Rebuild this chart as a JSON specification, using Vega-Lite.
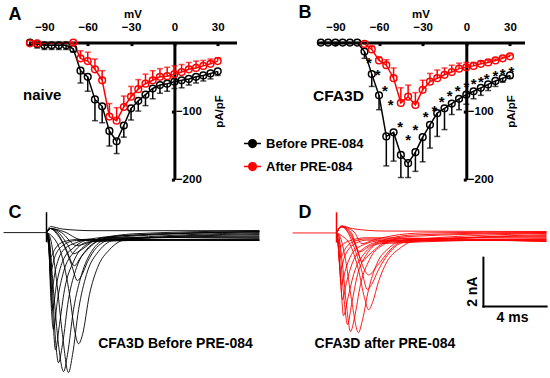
{
"$schema":"https://vega.github.io/schema/vega-lite/v6.json",
"padding":{"left":1.5,"top":3.6,"right":0,"bottom":0},
"bounds":"flush",
"columns":2,
"spacing":{"row":20,"column":80},
"config":{
"view":{"stroke":null},
"font":"Liberation Sans",
"axis":{"labelFont":"Liberation Sans","labelFontWeight":"bold","labelFontSize":11.5,"labelColor":"black","titleFont":"Liberation Sans","titleFontWeight":"bold","titleFontSize":11.5,"titleColor":"black","domainColor":"black","domainWidth":3,"tickColor":"black","tickWidth":3,"grid":false,"labelFlush":false,"labelOverlap":false}
},
"datasets":{
"iv":[
{"p":"A","c":"Before PRE-084","v":-100,"i":0,"e":-3},{"p":"A","c":"Before PRE-084","v":-95,"i":-2,"e":-8},{"p":"A","c":"Before PRE-084","v":-90,"i":-4,"e":-10},{"p":"A","c":"Before PRE-084","v":-85,"i":-4,"e":-10},{"p":"A","c":"Before PRE-084","v":-80,"i":-4,"e":-10},{"p":"A","c":"Before PRE-084","v":-75,"i":-4,"e":-10},{"p":"A","c":"Before PRE-084","v":-70,"i":-9,"e":-14},{"p":"A","c":"Before PRE-084","v":-65,"i":-41,"e":-59},{"p":"A","c":"Before PRE-084","v":-60,"i":-50,"e":-71},{"p":"A","c":"Before PRE-084","v":-55,"i":-83,"e":-114},{"p":"A","c":"Before PRE-084","v":-50,"i":-93,"e":-117},{"p":"A","c":"Before PRE-084","v":-45,"i":-129,"e":-151},{"p":"A","c":"Before PRE-084","v":-40,"i":-144,"e":-162},{"p":"A","c":"Before PRE-084","v":-35,"i":-121,"e":-138},{"p":"A","c":"Before PRE-084","v":-30,"i":-96,"e":-113},{"p":"A","c":"Before PRE-084","v":-25,"i":-85,"e":-100},{"p":"A","c":"Before PRE-084","v":-20,"i":-76,"e":-92},{"p":"A","c":"Before PRE-084","v":-15,"i":-67,"e":-82},{"p":"A","c":"Before PRE-084","v":-10,"i":-62,"e":-74},{"p":"A","c":"Before PRE-084","v":-5,"i":-60,"e":-71},{"p":"A","c":"Before PRE-084","v":0,"i":-57,"e":-67},{"p":"A","c":"Before PRE-084","v":5,"i":-55,"e":-66},{"p":"A","c":"Before PRE-084","v":10,"i":-53,"e":-62},{"p":"A","c":"Before PRE-084","v":15,"i":-50,"e":-59},{"p":"A","c":"Before PRE-084","v":20,"i":-48,"e":-56},{"p":"A","c":"Before PRE-084","v":25,"i":-45,"e":-53},{"p":"A","c":"Before PRE-084","v":30,"i":-42,"e":-48},
{"p":"A","c":"After PRE-084","v":-100,"i":-1,"e":null},{"p":"A","c":"After PRE-084","v":-95,"i":-1,"e":null},{"p":"A","c":"After PRE-084","v":-70,"i":0,"e":null},{"p":"A","c":"After PRE-084","v":-65,"i":-23,"e":-12},{"p":"A","c":"After PRE-084","v":-60,"i":-27,"e":-14},{"p":"A","c":"After PRE-084","v":-55,"i":-39,"e":-24},{"p":"A","c":"After PRE-084","v":-50,"i":-55,"e":-41},{"p":"A","c":"After PRE-084","v":-45,"i":-108,"e":-89},{"p":"A","c":"After PRE-084","v":-40,"i":-114,"e":-95},{"p":"A","c":"After PRE-084","v":-35,"i":-94,"e":-78},{"p":"A","c":"After PRE-084","v":-30,"i":-79,"e":-64},{"p":"A","c":"After PRE-084","v":-25,"i":-68,"e":-54},{"p":"A","c":"After PRE-084","v":-20,"i":-60,"e":-46},{"p":"A","c":"After PRE-084","v":-15,"i":-55,"e":-41},{"p":"A","c":"After PRE-084","v":-10,"i":-50,"e":-38},{"p":"A","c":"After PRE-084","v":-5,"i":-49,"e":-36},{"p":"A","c":"After PRE-084","v":0,"i":-46,"e":-34},{"p":"A","c":"After PRE-084","v":5,"i":-43,"e":-32},{"p":"A","c":"After PRE-084","v":10,"i":-39,"e":-29},{"p":"A","c":"After PRE-084","v":15,"i":-37,"e":-27},{"p":"A","c":"After PRE-084","v":20,"i":-34,"e":-26},{"p":"A","c":"After PRE-084","v":25,"i":-31,"e":-24},{"p":"A","c":"After PRE-084","v":30,"i":-27,"e":-22},
{"p":"B","c":"Before PRE-084","v":-100,"i":0,"e":null},{"p":"B","c":"Before PRE-084","v":-95,"i":0,"e":null},{"p":"B","c":"Before PRE-084","v":-90,"i":0,"e":null},{"p":"B","c":"Before PRE-084","v":-85,"i":0,"e":null},{"p":"B","c":"Before PRE-084","v":-80,"i":0,"e":null},{"p":"B","c":"Before PRE-084","v":-75,"i":0,"e":null},{"p":"B","c":"Before PRE-084","v":-70,"i":-13,"e":-23},{"p":"B","c":"Before PRE-084","v":-65,"i":-46,"e":-64},{"p":"B","c":"Before PRE-084","v":-60,"i":-77,"e":-98},{"p":"B","c":"Before PRE-084","v":-55,"i":-137,"e":-180},{"p":"B","c":"Before PRE-084","v":-50,"i":-131,"e":-173},{"p":"B","c":"Before PRE-084","v":-45,"i":-164,"e":-197},{"p":"B","c":"Before PRE-084","v":-40,"i":-176,"e":-197},{"p":"B","c":"Before PRE-084","v":-35,"i":-160,"e":-188},{"p":"B","c":"Before PRE-084","v":-30,"i":-138,"e":-174},{"p":"B","c":"Before PRE-084","v":-25,"i":-120,"e":-154},{"p":"B","c":"Before PRE-084","v":-20,"i":-103,"e":-137},{"p":"B","c":"Before PRE-084","v":-15,"i":-96,"e":-127},{"p":"B","c":"Before PRE-084","v":-10,"i":-89,"e":-105},{"p":"B","c":"Before PRE-084","v":-5,"i":-82,"e":-98},{"p":"B","c":"Before PRE-084","v":0,"i":-76,"e":-90},{"p":"B","c":"Before PRE-084","v":5,"i":-71,"e":-82},{"p":"B","c":"Before PRE-084","v":10,"i":-66,"e":-77},{"p":"B","c":"Before PRE-084","v":15,"i":-61,"e":-70},{"p":"B","c":"Before PRE-084","v":20,"i":-56,"e":-64},{"p":"B","c":"Before PRE-084","v":25,"i":-52,"e":-58},{"p":"B","c":"Before PRE-084","v":30,"i":-48,"e":-52},
{"p":"B","c":"After PRE-084","v":-70,"i":-2,"e":null},{"p":"B","c":"After PRE-084","v":-65,"i":-10,"e":-5},{"p":"B","c":"After PRE-084","v":-60,"i":-26,"e":-21},{"p":"B","c":"After PRE-084","v":-55,"i":-33,"e":-25},{"p":"B","c":"After PRE-084","v":-50,"i":-52,"e":-37},{"p":"B","c":"After PRE-084","v":-45,"i":-88,"e":-66},{"p":"B","c":"After PRE-084","v":-40,"i":-79,"e":-62},{"p":"B","c":"After PRE-084","v":-35,"i":-91,"e":-73},{"p":"B","c":"After PRE-084","v":-30,"i":-69,"e":-55},{"p":"B","c":"After PRE-084","v":-25,"i":-57,"e":-45},{"p":"B","c":"After PRE-084","v":-20,"i":-52,"e":-40},{"p":"B","c":"After PRE-084","v":-15,"i":-47,"e":-37},{"p":"B","c":"After PRE-084","v":-10,"i":-43,"e":-33},{"p":"B","c":"After PRE-084","v":-5,"i":-38,"e":-30},{"p":"B","c":"After PRE-084","v":0,"i":-36,"e":-29},{"p":"B","c":"After PRE-084","v":5,"i":-34,"e":-29},{"p":"B","c":"After PRE-084","v":10,"i":-31,"e":-27},{"p":"B","c":"After PRE-084","v":15,"i":-29,"e":-26},{"p":"B","c":"After PRE-084","v":20,"i":-26,"e":-24},{"p":"B","c":"After PRE-084","v":25,"i":-23,"e":-21},{"p":"B","c":"After PRE-084","v":30,"i":-20,"e":-18}
],
"stars":[
{"v":-67,"i":-24},{"v":-61,"i":-42},{"v":-56,"i":-65},{"v":-52,"i":-86},{"v":-45.5,"i":-118},{"v":-40,"i":-137},{"v":-35,"i":-123},{"v":-28,"i":-103},{"v":-22,"i":-94},{"v":-17,"i":-82},{"v":-11.5,"i":-73},{"v":-6,"i":-66},{"v":0,"i":-59},{"v":5,"i":-55},{"v":10,"i":-52},{"v":14,"i":-48},{"v":20,"i":-44},{"v":25,"i":-40},{"v":31,"i":-37}
],
"tr":[
{"p":"C","k":0,"t":-2.72,"i":0},{"p":"C","k":0,"t":0,"i":0},
{"p":"C","k":1,"t":0,"i":0},{"p":"C","k":1,"t":0.13,"i":-0.13},{"p":"C","k":1,"t":0.44,"i":-2.38},{"p":"C","k":1,"t":0.76,"i":-4.67},{"p":"C","k":1,"t":1.08,"i":-5.79},{"p":"C","k":1,"t":1.33,"i":-5.08},{"p":"C","k":1,"t":1.71,"i":-3.21},{"p":"C","k":1,"t":2.22,"i":-1.75},{"p":"C","k":1,"t":2.85,"i":-0.79},{"p":"C","k":1,"t":3.8,"i":-0.29},{"p":"C","k":1,"t":13.48,"i":-0.13},
{"p":"C","k":2,"t":0,"i":0},{"p":"C","k":2,"t":0.19,"i":-0.13},{"p":"C","k":2,"t":0.63,"i":-1.96},{"p":"C","k":2,"t":1.01,"i":-4.25},{"p":"C","k":2,"t":1.39,"i":-5.83},{"p":"C","k":2,"t":1.65,"i":-5.08},{"p":"C","k":2,"t":2.03,"i":-3.21},{"p":"C","k":2,"t":2.53,"i":-1.75},{"p":"C","k":2,"t":3.29,"i":-0.79},{"p":"C","k":2,"t":4.43,"i":-0.29},{"p":"C","k":2,"t":13.48,"i":-0.08},
{"p":"C","k":3,"t":0,"i":0},{"p":"C","k":3,"t":0.13,"i":-0.13},{"p":"C","k":3,"t":0.38,"i":-2.38},{"p":"C","k":3,"t":0.57,"i":-4.46},{"p":"C","k":3,"t":0.76,"i":-5.42},{"p":"C","k":3,"t":1.01,"i":-4.67},{"p":"C","k":3,"t":1.39,"i":-2.79},{"p":"C","k":3,"t":1.9,"i":-1.46},{"p":"C","k":3,"t":2.72,"i":-0.63},{"p":"C","k":3,"t":3.8,"i":-0.25},{"p":"C","k":3,"t":13.48,"i":-0.17},
{"p":"C","k":4,"t":0,"i":0},{"p":"C","k":4,"t":0.32,"i":-0.13},{"p":"C","k":4,"t":0.95,"i":-0.92},{"p":"C","k":4,"t":1.46,"i":-2.58},{"p":"C","k":4,"t":1.77,"i":-4.04},{"p":"C","k":4,"t":2.03,"i":-4.63},{"p":"C","k":4,"t":2.28,"i":-4.25},{"p":"C","k":4,"t":2.72,"i":-2.58},{"p":"C","k":4,"t":3.23,"i":-1.46},{"p":"C","k":4,"t":3.99,"i":-0.71},{"p":"C","k":4,"t":5.06,"i":-0.29},{"p":"C","k":4,"t":13.48,"i":-0.04},
{"p":"C","k":5,"t":0,"i":0},{"p":"C","k":5,"t":0.13,"i":-0.21},{"p":"C","k":5,"t":0.32,"i":-2.38},{"p":"C","k":5,"t":0.57,"i":-4.88},{"p":"C","k":5,"t":0.82,"i":-3.83},{"p":"C","k":5,"t":1.14,"i":-2.38},{"p":"C","k":5,"t":1.71,"i":-1.21},{"p":"C","k":5,"t":2.53,"i":-0.5},{"p":"C","k":5,"t":3.8,"i":-0.21},{"p":"C","k":5,"t":13.48,"i":-0.21},
{"p":"C","k":6,"t":0,"i":0},{"p":"C","k":6,"t":0.13,"i":-0.29},{"p":"C","k":6,"t":0.25,"i":-2.38},{"p":"C","k":6,"t":0.44,"i":-4.04},{"p":"C","k":6,"t":0.7,"i":-2.79},{"p":"C","k":6,"t":1.08,"i":-1.63},{"p":"C","k":6,"t":1.71,"i":-0.83},{"p":"C","k":6,"t":2.72,"i":-0.38},{"p":"C","k":6,"t":13.48,"i":-0.25},
{"p":"C","k":7,"t":0,"i":0},{"p":"C","k":7,"t":0.13,"i":-0.38},{"p":"C","k":7,"t":0.38,"i":-3.21},{"p":"C","k":7,"t":0.63,"i":-2.17},{"p":"C","k":7,"t":1.01,"i":-1.21},{"p":"C","k":7,"t":1.71,"i":-0.63},{"p":"C","k":7,"t":2.85,"i":-0.29},{"p":"C","k":7,"t":13.48,"i":-0.29},
{"p":"C","k":8,"t":0,"i":0},{"p":"C","k":8,"t":0.13,"i":-0.42},{"p":"C","k":8,"t":0.32,"i":-2.38},{"p":"C","k":8,"t":0.57,"i":-1.54},{"p":"C","k":8,"t":0.95,"i":-0.83},{"p":"C","k":8,"t":1.71,"i":-0.46},{"p":"C","k":8,"t":2.85,"i":-0.29},{"p":"C","k":8,"t":13.48,"i":-0.33},
{"p":"C","k":9,"t":0,"i":0},{"p":"C","k":9,"t":0.13,"i":-0.5},{"p":"C","k":9,"t":0.25,"i":-1.63},{"p":"C","k":9,"t":0.51,"i":-1.04},{"p":"C","k":9,"t":0.95,"i":-0.58},{"p":"C","k":9,"t":1.9,"i":-0.33},{"p":"C","k":9,"t":13.48,"i":-0.33},
{"p":"C","k":10,"t":0,"i":0},{"p":"C","k":10,"t":0.13,"i":-0.5},{"p":"C","k":10,"t":0.25,"i":-1.04},{"p":"C","k":10,"t":0.51,"i":-0.71},{"p":"C","k":10,"t":0.95,"i":-0.42},{"p":"C","k":10,"t":1.9,"i":-0.29},{"p":"C","k":10,"t":13.48,"i":-0.3},
{"p":"C","k":11,"t":0,"i":0},{"p":"C","k":11,"t":0.25,"i":0.17},{"p":"C","k":11,"t":0.63,"i":-0.04},{"p":"C","k":11,"t":1.08,"i":-0.5},{"p":"C","k":11,"t":1.58,"i":-1.33},{"p":"C","k":11,"t":1.96,"i":-2.0},{"p":"C","k":11,"t":2.22,"i":-1.79},{"p":"C","k":11,"t":2.6,"i":-1.21},{"p":"C","k":11,"t":3.16,"i":-0.63},{"p":"C","k":11,"t":4.11,"i":-0.29},{"p":"C","k":11,"t":13.48,"i":0},
{"p":"C","k":12,"t":0,"i":0},{"p":"C","k":12,"t":0.25,"i":0.17},{"p":"C","k":12,"t":0.7,"i":-0.04},{"p":"C","k":12,"t":1.2,"i":-0.63},{"p":"C","k":12,"t":1.77,"i":-1.38},{"p":"C","k":12,"t":2.15,"i":-1.04},{"p":"C","k":12,"t":2.85,"i":-0.5},{"p":"C","k":12,"t":4.11,"i":-0.21},{"p":"C","k":12,"t":13.48,"i":0.04},
{"p":"C","k":13,"t":0,"i":0},{"p":"C","k":13,"t":0.25,"i":0.17},{"p":"C","k":13,"t":0.82,"i":-0.04},{"p":"C","k":13,"t":1.33,"i":-0.5},{"p":"C","k":13,"t":1.71,"i":-0.88},{"p":"C","k":13,"t":2.22,"i":-0.71},{"p":"C","k":13,"t":3.16,"i":-0.29},{"p":"C","k":13,"t":4.75,"i":-0.13},{"p":"C","k":13,"t":13.48,"i":0.04},
{"p":"C","k":14,"t":0,"i":0},{"p":"C","k":14,"t":0.25,"i":0.17},{"p":"C","k":14,"t":0.95,"i":0},{"p":"C","k":14,"t":1.9,"i":-0.54},{"p":"C","k":14,"t":2.85,"i":-0.38},{"p":"C","k":14,"t":4.75,"i":-0.13},{"p":"C","k":14,"t":13.48,"i":0.04},
{"p":"C","k":15,"t":0,"i":0},{"p":"C","k":15,"t":0.25,"i":0.17},{"p":"C","k":15,"t":1.1,"i":0.04},{"p":"C","k":15,"t":2.2,"i":-0.29},{"p":"C","k":15,"t":3.5,"i":-0.2},{"p":"C","k":15,"t":5.5,"i":-0.05},{"p":"C","k":15,"t":13.48,"i":0.08},
{"p":"C","k":16,"t":0,"i":0},{"p":"C","k":16,"t":0.25,"i":0.25},{"p":"C","k":16,"t":1,"i":0.15},{"p":"C","k":16,"t":3,"i":0.08},{"p":"C","k":16,"t":13.48,"i":0.08},
{"p":"D","k":0,"t":-2.78,"i":0},{"p":"D","k":0,"t":0,"i":0},
{"p":"D","k":1,"t":0,"i":0},{"p":"D","k":1,"t":0.19,"i":-0.11},{"p":"D","k":1,"t":0.57,"i":-1.11},{"p":"D","k":1,"t":0.95,"i":-2.78},{"p":"D","k":1,"t":1.39,"i":-4.15},{"p":"D","k":1,"t":1.65,"i":-3.61},{"p":"D","k":1,"t":2.03,"i":-2.36},{"p":"D","k":1,"t":2.53,"i":-1.32},{"p":"D","k":1,"t":3.35,"i":-0.61},{"p":"D","k":1,"t":4.43,"i":-0.28},{"p":"D","k":1,"t":13.29,"i":-0.15},
{"p":"D","k":2,"t":0,"i":0},{"p":"D","k":2,"t":0.13,"i":-0.11},{"p":"D","k":2,"t":0.38,"i":-1.32},{"p":"D","k":2,"t":0.63,"i":-2.99},{"p":"D","k":2,"t":0.89,"i":-4.11},{"p":"D","k":2,"t":1.14,"i":-3.53},{"p":"D","k":2,"t":1.52,"i":-2.15},{"p":"D","k":2,"t":2.09,"i":-1.11},{"p":"D","k":2,"t":2.97,"i":-0.49},{"p":"D","k":2,"t":4.11,"i":-0.24},{"p":"D","k":2,"t":13.29,"i":-0.2},
{"p":"D","k":3,"t":0,"i":0},{"p":"D","k":3,"t":0.13,"i":-0.11},{"p":"D","k":3,"t":0.32,"i":-1.53},{"p":"D","k":3,"t":0.51,"i":-2.99},{"p":"D","k":3,"t":0.7,"i":-3.82},{"p":"D","k":3,"t":0.95,"i":-2.99},{"p":"D","k":3,"t":1.33,"i":-1.74},{"p":"D","k":3,"t":1.9,"i":-0.9},{"p":"D","k":3,"t":2.85,"i":-0.4},{"p":"D","k":3,"t":13.29,"i":-0.24},
{"p":"D","k":4,"t":0,"i":0},{"p":"D","k":4,"t":0.32,"i":-0.11},{"p":"D","k":4,"t":0.95,"i":-0.61},{"p":"D","k":4,"t":1.39,"i":-1.53},{"p":"D","k":4,"t":1.77,"i":-2.7},{"p":"D","k":4,"t":2.03,"i":-3.2},{"p":"D","k":4,"t":2.28,"i":-2.9},{"p":"D","k":4,"t":2.66,"i":-2.03},{"p":"D","k":4,"t":3.16,"i":-1.24},{"p":"D","k":4,"t":3.99,"i":-0.65},{"p":"D","k":4,"t":5.06,"i":-0.32},{"p":"D","k":4,"t":13.29,"i":-0.11},
{"p":"D","k":5,"t":0,"i":0},{"p":"D","k":5,"t":0.06,"i":-0.15},{"p":"D","k":5,"t":0.25,"i":-1.74},{"p":"D","k":5,"t":0.44,"i":-3.45},{"p":"D","k":5,"t":0.7,"i":-2.78},{"p":"D","k":5,"t":1.08,"i":-1.74},{"p":"D","k":5,"t":1.71,"i":-0.9},{"p":"D","k":5,"t":2.72,"i":-0.45},{"p":"D","k":5,"t":13.29,"i":-0.26},
{"p":"D","k":6,"t":0,"i":0},{"p":"D","k":6,"t":0.06,"i":-0.2},{"p":"D","k":6,"t":0.38,"i":-2.78},{"p":"D","k":6,"t":0.63,"i":-2.07},{"p":"D","k":6,"t":1.01,"i":-1.24},{"p":"D","k":6,"t":1.71,"i":-0.65},{"p":"D","k":6,"t":2.85,"i":-0.36},{"p":"D","k":6,"t":13.29,"i":-0.28},
{"p":"D","k":7,"t":0,"i":0},{"p":"D","k":7,"t":0.06,"i":-0.2},{"p":"D","k":7,"t":0.32,"i":-2.15},{"p":"D","k":7,"t":0.57,"i":-1.53},{"p":"D","k":7,"t":0.95,"i":-0.9},{"p":"D","k":7,"t":1.71,"i":-0.49},{"p":"D","k":7,"t":2.85,"i":-0.32},{"p":"D","k":7,"t":13.29,"i":-0.3},
{"p":"D","k":8,"t":0,"i":0},{"p":"D","k":8,"t":0.06,"i":-0.2},{"p":"D","k":8,"t":0.25,"i":-1.53},{"p":"D","k":8,"t":0.51,"i":-1.0},{"p":"D","k":8,"t":0.95,"i":-0.55},{"p":"D","k":8,"t":1.9,"i":-0.3},{"p":"D","k":8,"t":13.29,"i":-0.32},
{"p":"D","k":9,"t":0,"i":0},{"p":"D","k":9,"t":0.06,"i":-0.2},{"p":"D","k":9,"t":0.25,"i":-1.03},{"p":"D","k":9,"t":0.51,"i":-0.7},{"p":"D","k":9,"t":0.95,"i":-0.4},{"p":"D","k":9,"t":1.9,"i":-0.25},{"p":"D","k":9,"t":13.29,"i":-0.35},
{"p":"D","k":10,"t":0,"i":0},{"p":"D","k":10,"t":0.06,"i":-0.15},{"p":"D","k":10,"t":0.19,"i":-0.6},{"p":"D","k":10,"t":0.44,"i":-0.45},{"p":"D","k":10,"t":0.95,"i":-0.3},{"p":"D","k":10,"t":1.9,"i":-0.2},{"p":"D","k":10,"t":13.29,"i":-0.36},
{"p":"D","k":11,"t":0,"i":0},{"p":"D","k":11,"t":0.32,"i":0.26},{"p":"D","k":11,"t":0.76,"i":-0.03},{"p":"D","k":11,"t":1.08,"i":-0.53},{"p":"D","k":11,"t":1.58,"i":-1.53},{"p":"D","k":11,"t":1.96,"i":-2.36},{"p":"D","k":11,"t":2.22,"i":-2.15},{"p":"D","k":11,"t":2.66,"i":-1.53},{"p":"D","k":11,"t":3.35,"i":-0.82},{"p":"D","k":11,"t":4.24,"i":-0.4},{"p":"D","k":11,"t":13.29,"i":-0.07},
{"p":"D","k":12,"t":0,"i":0},{"p":"D","k":12,"t":0.32,"i":0.26},{"p":"D","k":12,"t":0.82,"i":-0.03},{"p":"D","k":12,"t":1.27,"i":-0.6},{"p":"D","k":12,"t":1.71,"i":-1.45},{"p":"D","k":12,"t":2.03,"i":-1.75},{"p":"D","k":12,"t":2.6,"i":-1.35},{"p":"D","k":12,"t":3.4,"i":-0.7},{"p":"D","k":12,"t":4.4,"i":-0.3},{"p":"D","k":12,"t":13.29,"i":-0.02},
{"p":"D","k":13,"t":0,"i":0},{"p":"D","k":13,"t":0.32,"i":0.26},{"p":"D","k":13,"t":0.9,"i":-0.03},{"p":"D","k":13,"t":1.35,"i":-0.8},{"p":"D","k":13,"t":1.6,"i":-1.2},{"p":"D","k":13,"t":2.0,"i":-0.95},{"p":"D","k":13,"t":2.9,"i":-0.45},{"p":"D","k":13,"t":4.5,"i":-0.15},{"p":"D","k":13,"t":13.29,"i":0},
{"p":"D","k":14,"t":0,"i":0},{"p":"D","k":14,"t":0.32,"i":0.26},{"p":"D","k":14,"t":0.95,"i":0},{"p":"D","k":14,"t":1.45,"i":-0.79},{"p":"D","k":14,"t":2.1,"i":-0.55},{"p":"D","k":14,"t":3.2,"i":-0.25},{"p":"D","k":14,"t":5,"i":-0.08},{"p":"D","k":14,"t":13.29,"i":0.02},
{"p":"D","k":15,"t":0,"i":0},{"p":"D","k":15,"t":0.32,"i":0.26},{"p":"D","k":15,"t":1.1,"i":0.05},{"p":"D","k":15,"t":1.6,"i":-0.45},{"p":"D","k":15,"t":2.3,"i":-0.3},{"p":"D","k":15,"t":3.5,"i":-0.12},{"p":"D","k":15,"t":5.5,"i":0},{"p":"D","k":15,"t":13.29,"i":0.04},
{"p":"D","k":16,"t":0,"i":0},{"p":"D","k":16,"t":0.32,"i":0.3},{"p":"D","k":16,"t":1,"i":0.18},{"p":"D","k":16,"t":3,"i":0.08},{"p":"D","k":16,"t":13.29,"i":0.06}
]
},
"concat":[
{"width":208,"height":137,
"encoding":{
"x":{"field":"v","type":"quantitative","scale":{"domain":[-101,43],"nice":false,"zero":false},"axis":{"orient":"top","values":[-90,-60,-30,0,30],"title":"mV","tickSize":-3,"labelPadding":13.5,"titlePadding":2}},
"y":{"field":"i","type":"quantitative","scale":{"domain":[-200,0],"nice":false,"zero":false},"axis":{"orient":"right","offset":-62.1,"values":[-100,-200],"title":"pA/pF","titleAngle":270,"tickSize":-3,"labelPadding":4,"titlePadding":23.5}},
"color":{"field":"c","type":"nominal","scale":{"domain":["Before PRE-084","After PRE-084"],"range":["#000000","#ff0000"]},"legend":{"orient":"none","legendX":214.5,"legendY":91.5,"title":null,"symbolType":"M-1,0H1M0.45,0A0.45,0.45,0,1,1,-0.45,0A0.45,0.45,0,1,1,0.45,0","symbolSize":289,"symbolStrokeWidth":1.5,"labelFont":"Liberation Sans","labelFontSize":13,"labelFontWeight":"bold","labelColor":"black","labelOffset":4,"rowPadding":6,"encode":{"symbols":{"update":{"fill":{"value":"transparent"},"opacity":{"value":1}}}}}}
},
"layer":[
{"data":{"name":"iv"},"transform":[{"filter":"datum.p==='A'"}],"mark":{"type":"line","strokeWidth":1.5}},
{"data":{"name":"iv"},"transform":[{"filter":"datum.p==='A' && isValid(datum.e)"}],"mark":{"type":"rule","strokeWidth":1.5},"encoding":{"y2":{"field":"e"}}},
{"data":{"name":"iv"},"transform":[{"filter":"datum.p==='A' && isValid(datum.e)"}],"mark":{"type":"tick","orient":"horizontal","size":6,"thickness":1.5},"encoding":{"y":{"field":"e","type":"quantitative"}}},
{"data":{"name":"iv"},"transform":[{"filter":"datum.p==='A'"}],"mark":{"type":"point","shape":"circle","filled":false,"size":45,"strokeWidth":1.5,"opacity":1}},
{"data":{"values":[{"lab":"A","v":-114.9,"i":33.6}]},"mark":{"type":"text","fontSize":18,"fontWeight":"bold","align":"left","baseline":"alphabetic"},"encoding":{"text":{"field":"lab","type":"nominal"},"color":{"value":"black"}}},
{"data":{"values":[{"lab":"naive","v":-91.5,"i":-83.2}]},"mark":{"type":"text","fontSize":15,"fontWeight":"bold","align":"center","baseline":"alphabetic"},"encoding":{"text":{"field":"lab","type":"nominal"},"color":{"value":"black"}}}
]},
{"width":208,"height":137,
"encoding":{
"x":{"field":"v","type":"quantitative","scale":{"domain":[-103,40],"nice":false,"zero":false},"axis":{"orient":"top","values":[-90,-60,-30,0,30],"title":"mV","tickSize":-3,"labelPadding":13.5,"titlePadding":2}},
"y":{"field":"i","type":"quantitative","scale":{"domain":[-200,0],"nice":false,"zero":false},"axis":{"orient":"right","offset":-58.2,"values":[-100,-200],"title":"pA/pF","titleAngle":270,"tickSize":-3,"labelPadding":4,"titlePadding":23.5}},
"color":{"field":"c","type":"nominal","scale":{"domain":["Before PRE-084","After PRE-084"],"range":["#000000","#ff0000"]},"legend":null}
},
"layer":[
{"data":{"name":"iv"},"transform":[{"filter":"datum.p==='B'"}],"mark":{"type":"line","strokeWidth":1.5}},
{"data":{"name":"iv"},"transform":[{"filter":"datum.p==='B' && isValid(datum.e)"}],"mark":{"type":"rule","strokeWidth":1.5},"encoding":{"y2":{"field":"e"}}},
{"data":{"name":"iv"},"transform":[{"filter":"datum.p==='B' && isValid(datum.e)"}],"mark":{"type":"tick","orient":"horizontal","size":6,"thickness":1.5},"encoding":{"y":{"field":"e","type":"quantitative"}}},
{"data":{"name":"iv"},"transform":[{"filter":"datum.p==='B'"}],"mark":{"type":"point","shape":"circle","filled":false,"size":45,"strokeWidth":1.5,"opacity":1}},
{"data":{"name":"stars"},"mark":{"type":"text","text":"*","fontSize":15,"fontWeight":"bold","align":"center","baseline":"alphabetic","dy":8.6},"encoding":{"color":{"value":"black"}}},
{"data":{"values":[{"lab":"B","v":-115.4,"i":35.8}]},"mark":{"type":"text","fontSize":18,"fontWeight":"bold","align":"left","baseline":"alphabetic"},"encoding":{"text":{"field":"lab","type":"nominal"},"color":{"value":"black"}}},
{"data":{"values":[{"lab":"CFA3D","v":-87.9,"i":-84.7}]},"mark":{"type":"text","fontSize":15.5,"fontWeight":"bold","align":"center","baseline":"alphabetic"},"encoding":{"text":{"field":"lab","type":"nominal"},"color":{"value":"black"}}}
]},
{"width":208,"height":178,
"encoding":{
"x":{"field":"t","type":"quantitative","scale":{"domain":[-1.14,12.03],"nice":false,"zero":false},"axis":null},
"y":{"field":"i","type":"quantitative","scale":{"domain":[-6.04,1.375],"nice":false,"zero":false},"axis":null}
},
"layer":[
{"data":{"name":"tr"},"transform":[{"filter":"datum.p==='C'"}],"mark":{"type":"line","strokeWidth":0.9,"interpolate":"monotone","color":"black"},"encoding":{"detail":{"field":"k","type":"nominal"}}},
{"data":{"values":[{"t":0,"a":-0.4,"b":0.85}]},"mark":{"type":"rule","strokeWidth":1.5,"color":"black"},"encoding":{"y":{"field":"a","type":"quantitative"},"y2":{"field":"b"}}},
{"data":{"values":[{"lab":"C","t":-2.41,"i":0.6}]},"mark":{"type":"text","fontSize":18,"fontWeight":"bold","align":"left","baseline":"alphabetic"},"encoding":{"text":{"field":"lab","type":"nominal"},"color":{"value":"black"}}},
{"data":{"values":[{"lab":"CFA3D Before PRE-084","t":3.27,"i":-4.81}]},"mark":{"type":"text","fontSize":14,"fontWeight":"bold","align":"left","baseline":"alphabetic"},"encoding":{"text":{"field":"lab","type":"nominal"},"color":{"value":"black"}}}
]},
{"width":208,"height":178,
"encoding":{
"x":{"field":"t","type":"quantitative","scale":{"domain":[-1.266,11.9],"nice":false,"zero":false},"axis":null},
"y":{"field":"i","type":"quantitative","scale":{"domain":[-6.03,1.39],"nice":false,"zero":false},"axis":null}
},
"layer":[
{"data":{"name":"tr"},"transform":[{"filter":"datum.p==='D'"}],"mark":{"type":"line","strokeWidth":0.9,"interpolate":"monotone","color":"#ff0000"},"encoding":{"detail":{"field":"k","type":"nominal"}}},
{"data":{"values":[{"t":0,"a":-0.4,"b":0.86}]},"mark":{"type":"rule","strokeWidth":1.5,"color":"#ff0000"},"encoding":{"y":{"field":"a","type":"quantitative"},"y2":{"field":"b"}}},
{"data":{"values":[{"t":9.3,"a":-1.03,"b":-3.07}]},"mark":{"type":"rule","strokeWidth":2,"color":"black","strokeCap":"square"},"encoding":{"y":{"field":"a","type":"quantitative"},"y2":{"field":"b"}}},
{"data":{"values":[{"t":9.3,"u":13.3,"a":-3.07}]},"mark":{"type":"rule","strokeWidth":2,"color":"black","strokeCap":"square"},"encoding":{"x2":{"field":"u"},"y":{"field":"a","type":"quantitative"}}},
{"data":{"values":[{"lab":"D","t":-2.41,"i":0.62}]},"mark":{"type":"text","fontSize":18,"fontWeight":"bold","align":"left","baseline":"alphabetic"},"encoding":{"text":{"field":"lab","type":"nominal"},"color":{"value":"black"}}},
{"data":{"values":[{"lab":"CFA3D after PRE-084","t":-1.39,"i":-4.8}]},"mark":{"type":"text","fontSize":14,"fontWeight":"bold","align":"left","baseline":"alphabetic"},"encoding":{"text":{"field":"lab","type":"nominal"},"color":{"value":"black"}}},
{"data":{"values":[{"lab":"2 nA","t":8.65,"i":-2.45}]},"mark":{"type":"text","fontSize":14,"fontWeight":"bold","align":"center","baseline":"middle","angle":270},"encoding":{"text":{"field":"lab","type":"nominal"},"color":{"value":"black"}}},
{"data":{"values":[{"lab":"4 ms","t":11.14,"i":-3.7}]},"mark":{"type":"text","fontSize":14,"fontWeight":"bold","align":"center","baseline":"alphabetic"},"encoding":{"text":{"field":"lab","type":"nominal"},"color":{"value":"black"}}}
]}
]
}
